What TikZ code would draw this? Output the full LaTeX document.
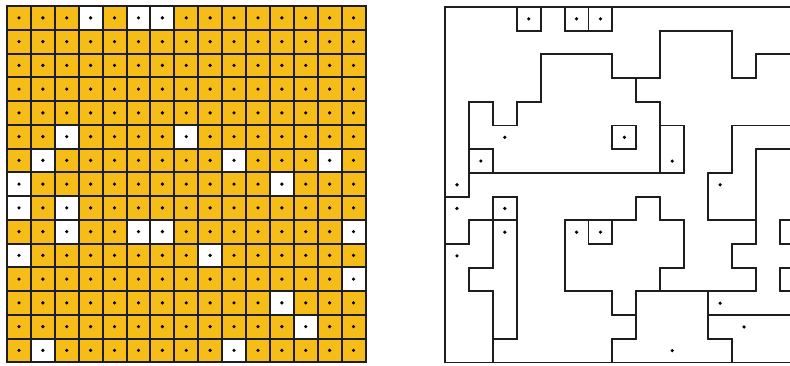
\documentclass[tikz,border=0pt]{standalone}
\definecolor{cellyellow}{RGB}{246,189,24}
\definecolor{linegray}{RGB}{30,30,30}
\begin{document}
\begin{tikzpicture}[x=1pt,y=-1pt,
  gridline/.style={draw=linegray,line width=2pt,line cap=rect},
  regline/.style={draw=linegray,line width=1.9pt,line join=miter,line cap=rect},
  seeddot/.style={fill=black}]
\useasboundingbox (0,0) rectangle (790,365);
\clip (0,0) rectangle (790,365);
\fill[white] (0,0) rectangle (790,365);
% ---------- left: coloured grid ----------
\begin{scope}[shift={(7,6)}, x=23.9pt, y=-23.75pt]
  \fill[cellyellow] (0,0) rectangle (15,15);
  \foreach \r/\c in {0/3,0/5,0/6,5/2,5/7,6/1,6/9,6/13,7/0,7/11,8/0,8/2,9/2,9/5,9/6,9/14,10/0,10/8,11/14,12/11,13/12,14/1,14/9}
    \fill[white] (\c,\r) rectangle ++(1,1);
  \foreach \i in {0,...,15} {
    \draw[gridline] (\i,0) -- (\i,15);
    \draw[gridline] (0,\i) -- (15,\i);
  }
  \foreach \r in {0,...,14}
    \foreach \c in {0,...,14}
      \fill[seeddot] (\c+0.5,\r+0.5) circle[radius=1.8pt];
\end{scope}
% ---------- right: region map ----------
\begin{scope}[shift={(445,7)}, x=23.92pt, y=-23.7pt]
  % outer frame
  \draw[regline] (15.5,0) -- (0,0) -- (0,15) -- (15.5,15);
  % top cells
  \draw[regline] (3,0) -- (3,1) -- (4,1) -- (4,0);
  \draw[regline] (5,0) -- (5,1) -- (7,1) -- (7,0);
  \draw[regline] (6,0) -- (6,1);
  % long stepped line
  \draw[regline] (1,8) -- (1,4) -- (2,4) -- (2,5) -- (3,5) -- (3,4) -- (4,4) -- (4,2)
    -- (7,2) -- (7,3) -- (9,3) -- (9,1) -- (12,1) -- (12,3) -- (13,3) -- (13,2) -- (15.5,2);
  \draw[regline] (1,6) -- (2,6) -- (2,7);
  \draw[regline] (1,7) -- (10,7);
  \draw[regline] (7,5) rectangle (8,6);
  \draw[regline] (8,3) -- (8,4) -- (9,4) -- (9,7);
  \draw[regline] (9,5) -- (10,5) -- (10,7);
  % left lower part
  \draw[regline] (0,8) -- (1,8);
  \draw[regline] (3,9) -- (1,9) -- (1,10) -- (0,10);
  \draw[regline] (2,8) -- (3,8) -- (3,14) -- (2,14);
  \draw[regline] (2,8) -- (2,11) -- (1,11) -- (1,12) -- (2,12) -- (2,15);
  % middle part
  \draw[regline] (5,12) -- (5,9) -- (8,9) -- (8,8) -- (9,8) -- (9,9) -- (10,9) -- (10,11) -- (9,11) -- (9,12);
  \draw[regline] (6,9) -- (6,10) -- (7,10) -- (7,9);
  \draw[regline] (5,12) -- (7,12) -- (7,13) -- (8,13) -- (8,12) -- (13,12);
  \draw[regline] (8,13) -- (8,14) -- (7,14) -- (7,15);
  % right part
  \draw[regline] (11,12) -- (11,14) -- (12,14) -- (12,15);
  \draw[regline] (11,13) -- (15.5,13);
  \draw[regline] (15.5,5) -- (12,5) -- (12,7) -- (11,7) -- (11,9) -- (13,9);
  \draw[regline] (15.5,6) -- (13,6) -- (13,10) -- (12,10) -- (12,11) -- (13,11) -- (13,12);
  \draw[regline] (15.5,9) -- (14,9) -- (14,10) -- (15.5,10);
  \draw[regline] (15.5,11) -- (14,11) -- (14,12) -- (15.5,12);
  % seed dots
  \foreach \r/\c in {0/3,0/5,0/6,5/2,5/7,6/1,6/9,7/0,7/11,8/0,8/2,9/2,9/5,9/6,10/0,12/11,13/12,14/9,9/14,11/14}
    \fill[seeddot] (\c+0.5,\r+0.5) circle[radius=1.8pt];
\end{scope}
\end{tikzpicture}
\end{document}
